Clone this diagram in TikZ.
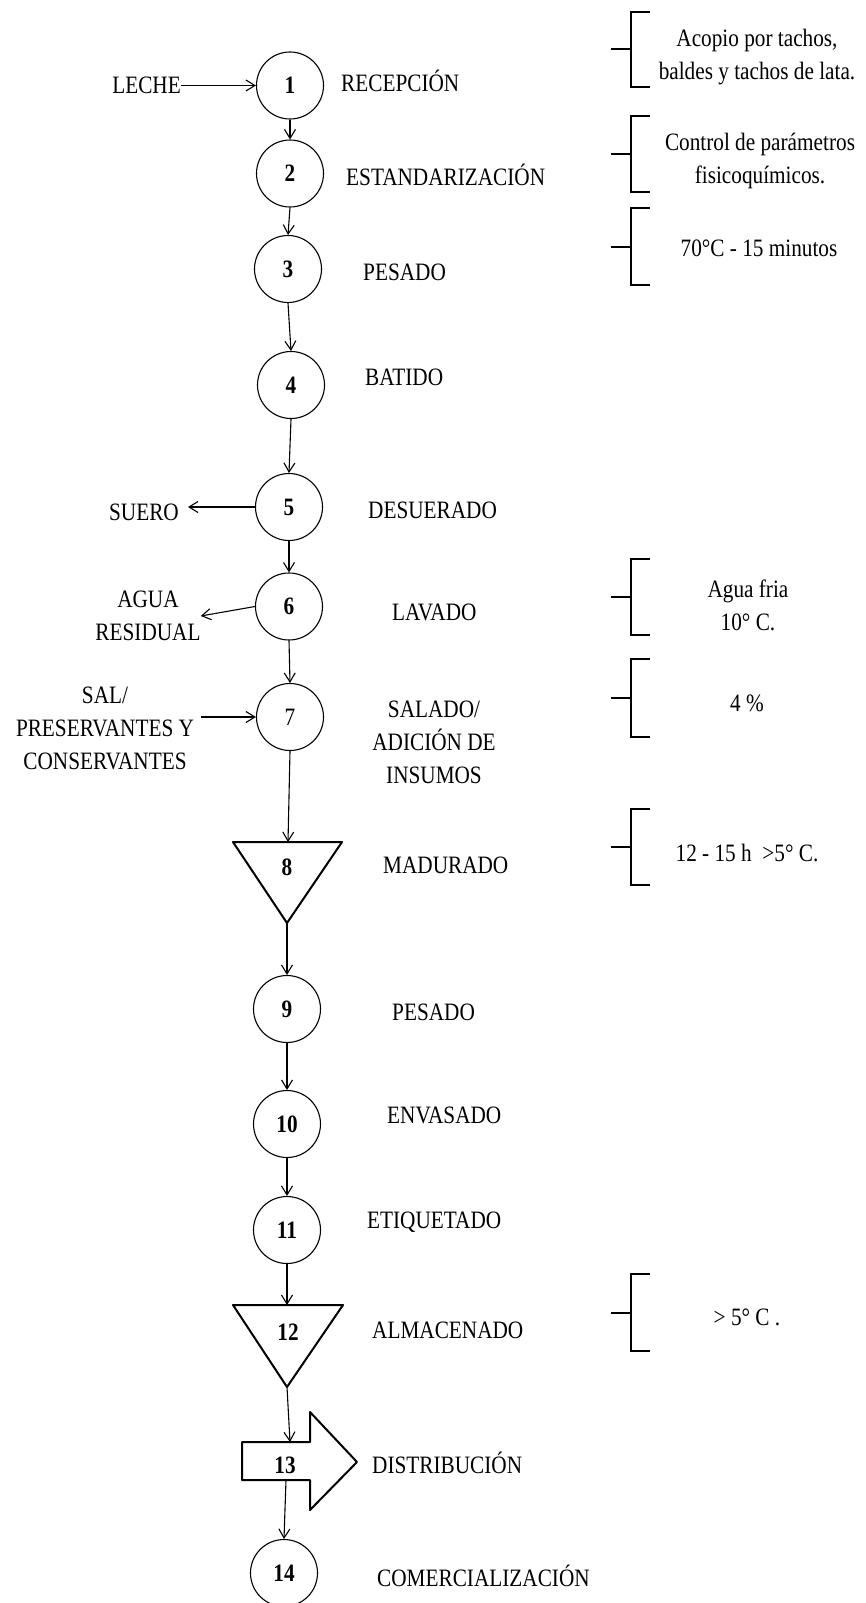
\documentclass[tikz,border=0pt]{standalone}
\usepackage{fontspec}
\setmainfont{Liberation Serif}[FakeStretch=0.85]
\usetikzlibrary{arrows.meta}
\begin{document}
\begin{tikzpicture}[x=1pt,y=-1pt,
  every node/.style={inner sep=0pt, font=\fontsize{25}{33}\selectfont},
  proc/.style={circle, draw, line width=1.1pt, minimum size=67pt},
  arr/.style={-{Straight Barb[length=9pt,width=11pt]}, line width=1.1pt},
  shp/.style={draw, line width=2pt, line join=round},
  brk/.style={line width=2.5pt},
  lbl/.style={anchor=base west},
  note/.style={align=center},
]
\useasboundingbox (0,0) rectangle (865,1603);

% process circles
\node[proc] (c1) at (290,85.5) {\textbf{1}};
\node[proc] (c2) at (290,173.5) {\textbf{2}};
\node[proc] (c3) at (288,269) {\textbf{3}};
\node[proc] (c4) at (291,385) {\textbf{4}};
\node[proc] (c5) at (289,507) {\textbf{5}};
\node[proc] (c6) at (289,606.5) {\textbf{6}};
\node[proc] (c7) at (290,717) {7};
\node[proc] (c9) at (287,1009) {\textbf{9}};
\node[proc] (c10) at (287,1124) {\textbf{10}};
\node[proc] (c11) at (287,1230) {\textbf{11}};
\node[proc] (c14) at (284,1573) {\textbf{14}};

% triangle 8
\coordinate (t8a) at (233,842);
\coordinate (t8b) at (342,842);
\coordinate (t8c) at (287,923);
\coordinate (t8top) at (288,842);
\draw[shp] (t8a) -- (t8b) -- (t8c) -- cycle;
\node (t8) at (287,867) {\textbf{8}};

% triangle 12
\coordinate (t12a) at (233,1305);
\coordinate (t12b) at (343,1305);
\coordinate (t12c) at (287,1387);
\coordinate (t12top) at (287,1305);
\draw[shp] (t12a) -- (t12b) -- (t12c) -- cycle;
\node (t12) at (288,1332) {\textbf{12}};

% arrow shape 13
\coordinate (s13top) at (290,1442);
\coordinate (s13bot) at (286,1480);
\draw[shp] (242,1442) -- (310,1442) -- (310,1412) -- (357,1462) -- (310,1510)
  -- (310,1480) -- (242,1480) -- cycle;
\node (s13) at (285,1465) {\textbf{13}};

% step labels
\node[lbl] (l1) at (341,92) {RECEPCIÓN};
\node[lbl] (l2) at (346,185) {ESTANDARIZACIÓN};
\node[lbl] (l3) at (363,280) {PESADO};
\node[lbl] (l4) at (365,385) {BATIDO};
\node[lbl] (l5) at (368,518) {DESUERADO};
\node[lbl] (l6) at (392,620) {LAVADO};
\node[note] (l7) at (434,742) {SALADO/\\ADICIÓN DE\\INSUMOS};
\node[lbl] (l8) at (383,873) {MADURADO};
\node[lbl] (l9) at (392,1020) {PESADO};
\node[lbl] (l10) at (387,1123) {ENVASADO};
\node[lbl] (l11) at (367,1228) {ETIQUETADO};
\node[lbl] (l12) at (372,1338) {ALMACENADO};
\node[lbl] (l13) at (372,1473) {DISTRIBUCIÓN};
\node[lbl] (l14) at (377,1586) {COMERCIALIZACIÓN};

% inputs / outputs
\node[anchor=base east] (leche) at (181,93) {LECHE};
\node[anchor=base east] (suero) at (179,520) {SUERO};
\node[note] (agua) at (148,616) {AGUA\\RESIDUAL};
\node[note] (sal) at (105,728) {SAL/\\PRESERVANTES Y\\CONSERVANTES};

% connectors
\draw[arr] (c1.west -| leche.east) -- (c1.west);
\draw[arr] (c1.south) -- (c2.north);
\draw[arr] (c2.south) -- (c3.north);
\draw[arr] (c3.south) -- (c4.north);
\draw[arr] (c4.south) -- (c5.north);
\draw[arr] (c5.south) -- (c6.north);
\draw[arr] (c6.south) -- (c7.north);
\draw[arr] (c5.west) -- ([xshift=9pt]c5.west -| suero.east);
\draw[arr] (c6.west) -- (agua.east);
\draw[arr] ([xshift=7pt]c7.west -| sal.east) -- (c7.west);
\draw[arr] (c7.south) -- (t8top);
\draw[arr] (t8c) -- (c9.north);
\draw[arr] (c9.south) -- (c10.north);
\draw[arr] (c10.south) -- (c11.north);
\draw[arr] (c11.south) -- (t12top);
\draw[arr] (t12c) -- (s13top);
\draw[arr] (s13bot) -- (c14.north);

% brackets
\draw[brk] (650,12) -- (631,12) -- (631,87) -- (650,87);
\draw[brk] (611,49) -- (631,49);
\draw[brk] (650,116) -- (631,116) -- (631,192) -- (650,192);
\draw[brk] (611,154) -- (631,154);
\draw[brk] (650,208) -- (631,208) -- (631,285) -- (650,285);
\draw[brk] (611,247) -- (631,247);
\draw[brk] (650,559) -- (631,559) -- (631,635) -- (650,635);
\draw[brk] (611,597) -- (631,597);
\draw[brk] (650,659) -- (631,659) -- (631,737) -- (650,737);
\draw[brk] (611,698) -- (631,698);
\draw[brk] (650,809) -- (631,809) -- (631,885) -- (650,885);
\draw[brk] (611,847) -- (631,847);
\draw[brk] (650,1274) -- (631,1274) -- (631,1351) -- (650,1351);
\draw[brk] (611,1313) -- (631,1313);

% notes
\node[note] (n1) at (757,57) {Acopio por tachos,\\baldes y tachos de lata.};
\node[note] (n2) at (760,161) {Control de parámetros\\fisicoquímicos.};
\node[note] (n3) at (759,248) {70°C - 15 minutos};
\node[note] (n6) at (748,605) {Agua fria\\10° C.};
\node[note] (n7) at (747,703) {4 \%};
\node[note] (n8) at (747,853) {12 - 15 h \ >5° C.};
\node[note] (n12) at (747,1317) {> 5° C .};
\end{tikzpicture}
\end{document}
